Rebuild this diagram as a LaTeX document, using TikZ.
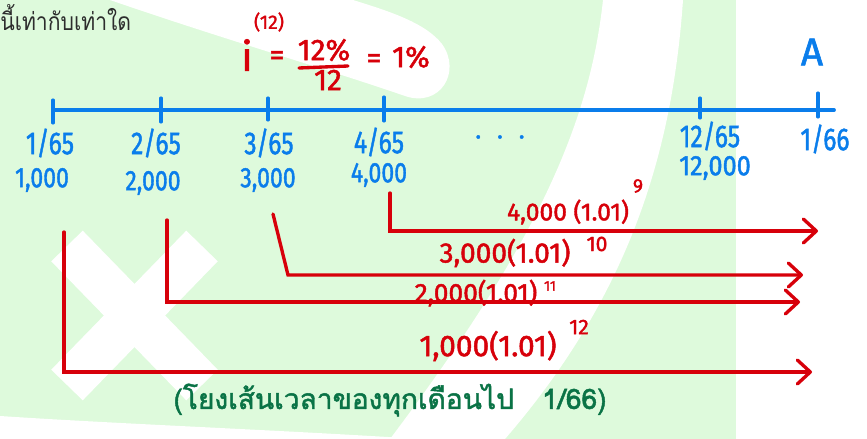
\documentclass[tikz,border=0pt]{standalone}
\usepackage{fontspec}
\usepackage{graphicx}
\setmainfont{Fira Sans}
\newfontfamily\hwfont{Fira Sans}[FakeBold=1.6]
\newfontfamily\thaifont[Script=Thai]{Loma}
\newfontfamily\thaihw[Script=Thai,FakeBold=1.6]{Loma}
\usetikzlibrary{positioning,arrows.meta,calc}
\definecolor{hwblue}{RGB}{10,125,235}
\definecolor{hwred}{RGB}{215,0,10}
\definecolor{hwgreen}{RGB}{10,115,70}
\definecolor{bggreen}{RGB}{222,250,220}
\definecolor{asktxt}{RGB}{45,45,45}
\newcommand{\narrow}[2][0.78]{\scalebox{#1}[1]{#2}}
\newcommand{\fs}[1]{\fontsize{#1}{#1}\selectfont}
\tikzset{
  >={Straight Barb[length=2.6mm,width=4.8mm,round]},
  bgwash/.style={fill=bggreen},
  bgcut/.style={fill=white},
  crossbar/.style={white,line width=25pt},
  axisln/.style={hwblue,line width=2.2pt,line cap=round},
  tickln/.style={hwblue,line width=1.8pt,line cap=round},
  datelbl/.style={text=hwblue,font=\hwfont\fs{18},inner sep=0pt},
  amtlbl/.style={text=hwblue,font=\hwfont\fs{16},inner sep=0pt},
  fmla/.style={text=hwred,font=\hwfont\fs{17},inner sep=0pt},
  fracbar/.style={hwred,line width=1.9pt,line cap=round},
  payarr/.style={->,hwred,line width=1.9pt,line cap=round},
  paylbl/.style={text=hwred,font=\hwfont\fs{14},inner sep=0pt},
  paysup/.style={text=hwred,font=\hwfont\fs{11},inner sep=0pt},
  notelbl/.style={text=hwgreen,font=\thaihw\fs{16},inner sep=0pt},
  asklbl/.style={text=asktxt,font=\thaifont\fs{14},inner sep=0pt},
}

\begin{document}
\begin{tikzpicture}[x=0.02cm,y=-0.02cm]
  \useasboundingbox (0,0) rectangle (867,439);
  % watermark
  \begin{scope}
    \clip (0,0) rectangle (867,439);
    \fill[bgwash] (0,0) rectangle (736,439);
    \fill[bgcut] (110,0) .. controls (220,38) and (330,70) .. (405,96)
      .. controls (440,108) and (462,72) .. (442,44)
      .. controls (425,22) and (385,10) .. (353,0) -- cycle;
    \fill[bgcut] (603,0) .. controls (590,120) and (540,240) .. (390,439)
      -- (505,439) .. controls (625,300) and (672,160) .. (683,0) -- cycle;
    \fill[bgcut] (0,416) .. controls (120,424) and (280,430) .. (420,439)
      -- (0,439) -- cycle;
    \draw[crossbar] (67,246) -- (202,385);
    \draw[crossbar] (202,246) -- (67,385);
  \end{scope}

  \node[asklbl,anchor=base west] (ask) at (0,31) {\narrow[0.86]{นี้เท่ากับเท่าใด}};

  % interest rate
  \node[fmla,font=\hwfont\fs{23}] (ivar) at (247,55) {i};
  \node[fmla,font=\hwfont\fs{11}] (ivarsup) at (269,22) {(12)};
  \node[fmla] (eqa) at (277,58) {=};
  \node[fmla] (num) at (324,50) {12\%};
  \node[fmla] (den) at (328,80) {12};
  \coordinate (barL) at (299,68);
  \coordinate (barR) at (348,66);
  \draw[fracbar] (barL) -- (barR);
  \node[fmla] (eqb) at (374,61) {=};
  \node[fmla] (rate) at (411,57) {1\%};

  % time line
  \coordinate (axbeg) at (53,110);
  \coordinate (axend) at (834,110);
  \draw[axisln] (axbeg) -- (axend);
  \foreach \x/\ya/\yb in {53/100/123,161/98/122,268/98/120,384/97/121,700/98/118,818/93/117}
    \draw[tickln] (\x,\ya) -- (\x,\yb);
  \node[text=hwblue,font=\hwfont\fs{22},inner sep=0pt] (fv) at (812,52) {A};

  \node[datelbl] (d1) at (50,143) {\narrow{1/65}};
  \node[datelbl] (d2) at (156,143) {\narrow{2/65}};
  \node[datelbl] (d3) at (269,143) {\narrow{3/65}};
  \node[datelbl] (d4) at (379,142) {\narrow{4/65}};
  \node[datelbl,font=\hwfont\fs{14}] (dots) at (500,137) {.\hspace{9pt}.\hspace{9pt}.};
  \node[datelbl] (d12) at (710,136) {\narrow{12/65}};
  \node[datelbl] (d13) at (825,139) {\narrow{1/66}};

  \node[amtlbl] (m1) at (42,180) {\narrow[0.82]{1,000}};
  \node[amtlbl] (m2) at (153,183) {\narrow[0.82]{2,000}};
  \node[amtlbl] (m3) at (268,180) {\narrow[0.82]{3,000}};
  \node[amtlbl] (m4) at (379,175) {\narrow[0.82]{4,000}};
  \node[amtlbl] (m12) at (715,168) {\narrow[0.9]{12,000}};

  % compounding to 1/66
  \coordinate (s4) at (390,193);  \coordinate (e4) at (818,231);
  \coordinate (s3) at (273,214);  \coordinate (c3) at (288,275);
  \coordinate (e3) at (803,275);
  \coordinate (s2) at (167,220);  \coordinate (e2) at (800,302);
  \coordinate (s1) at (64,232);   \coordinate (e1) at (812,372);
  \draw[payarr] (s4) |- (e4);
  \draw[payarr] (s3) -- (c3) -- (e3);
  \draw[payarr] (s2) |- (e2);
  \draw[payarr] (s1) |- (e1);

  \node[paylbl] (v4) at (568,212) {4,000 (1.01)};
  \node[paysup] (v4e) at (638,186) {9};
  \node[paylbl,font=\hwfont\fs{16}] (v3) at (505,253) {3,000(1.01)};
  \node[paysup,font=\hwfont\fs{12}] (v3e) at (597,244) {10};
  \node[paylbl,font=\hwfont\fs{15}] (v2) at (476,293) {2,000(1.01)};
  \node[paysup,font=\hwfont\fs{8}] (v2e) at (550,286) {11};
  \node[paylbl,font=\hwfont\fs{17}] (v1) at (488,346) {1,000(1.01)};
  \node[paysup,font=\hwfont\fs{12}] (v1e) at (579,327) {12};

  \node[notelbl] (note) at (390,400) {(โยงเส้นเวลาของทุกเดือนไป\quad 1/66)};
\end{tikzpicture}
\end{document}
